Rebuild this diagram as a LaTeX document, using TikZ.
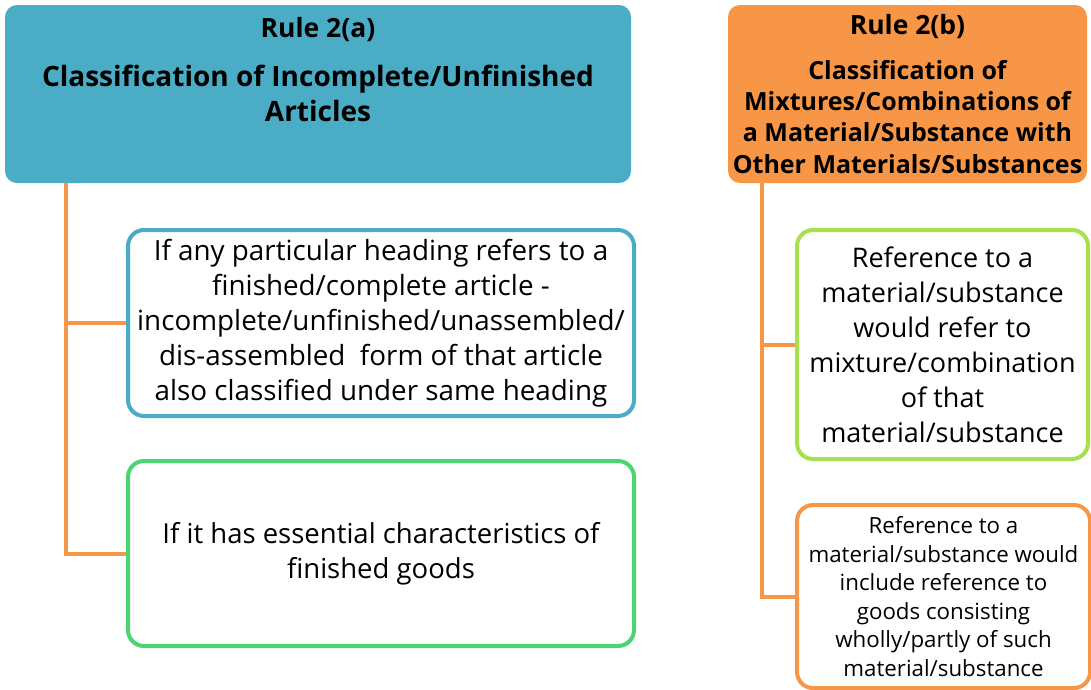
\documentclass[tikz,border=0pt]{standalone}
\usepackage{fontspec}
\setmainfont{Open Sans}
\definecolor{cblue}{HTML}{4BACC6}
\definecolor{corange}{HTML}{F79646}
\definecolor{cgreen}{HTML}{4CD473}
\definecolor{clime}{HTML}{A6E04C}
\begin{document}
\begin{tikzpicture}[x=1pt,y=-1pt,
  headbox/.style={rectangle, rounded corners=12pt, draw=none, inner sep=0pt},
  subbox/.style={rectangle, rounded corners=16pt, line width=4pt, fill=white, inner sep=0pt, align=center},
  conn/.style={draw=corange, line width=4pt},
  titletxt/.style={align=center, font=\bfseries\fontsize{26.5}{31}\selectfont, inner sep=0pt},
]
\useasboundingbox (0,0) rectangle (1091,689);
% heads
\node[headbox, fill=cblue, minimum width=626pt, minimum height=178pt] (A) at (318,94) {};
\node[headbox, fill=corange, minimum width=359pt, minimum height=178pt] (B) at (907.5,94) {};
\node[titletxt, anchor=base] (At) at (318,37.5) {Rule 2(a)};
\node[align=center, font=\bfseries\fontsize{28}{35}\selectfont, inner sep=0pt, anchor=base] (Ab) at (318,121.5) {Classification of Incomplete/Unfinished\\Articles};
\node[titletxt, anchor=base] (Bt) at (907.5,34) {Rule 2(b)};
\node[align=center, font=\bfseries\fontsize{25}{31.3}\selectfont, inner sep=0pt, anchor=base] (Bb) at (907.5,173) {Classification of\\Mixtures/Combinations of\\a Material/Substance with\\Other Materials/Substances};
% sub boxes
\node[subbox, draw=cblue, minimum width=506pt, minimum height=186pt, font=\fontsize{27.8}{35}\selectfont] (C) at (381,323)
 {If any particular heading refers to a\\finished/complete article -\\incomplete/unfinished/unassembled/\\dis-assembled\ \ form of that article\\also classified under same heading};
\node[subbox, draw=cgreen, minimum width=506pt, minimum height=185pt, font=\fontsize{27.5}{35}\selectfont] (D) at (381,553.5)
 {If it has essential characteristics of\\finished goods};
\node[subbox, draw=clime, minimum width=291pt, minimum height=229pt, font=\fontsize{27}{35}\selectfont] (E) at (942.5,344.5)
 {Reference to a\\material/substance\\would refer to\\mixture/combination\\of that\\material/substance};
\node[subbox, draw=corange, minimum width=293pt, minimum height=183pt, font=\fontsize{22.3}{28.6}\selectfont] (F) at (943.5,596.5)
 {Reference to a\\material/substance would\\include reference to\\goods consisting\\wholly/partly of such\\material/substance};
% connectors
\coordinate (ta) at (66,183);
\coordinate (tb) at (762,183);
\draw[conn] (ta) |- (C.west);
\draw[conn] (ta) |- (D.west);
\draw[conn] (tb) |- (E.west);
\draw[conn] (tb) |- (F.west);
\end{tikzpicture}
\end{document}
